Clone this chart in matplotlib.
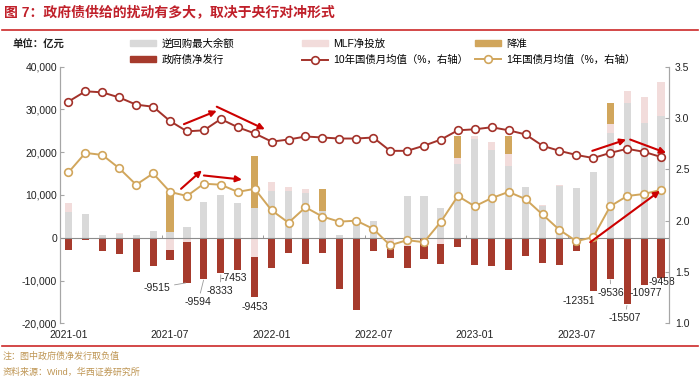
import matplotlib
matplotlib.use('Agg')
import matplotlib.pyplot as plt
import numpy as np
from matplotlib.lines import Line2D
from matplotlib.patches import Patch
from matplotlib.ticker import FuncFormatter

plt.rcParams['font.family'] = ['Liberation Sans', 'Noto Sans CJK SC']

# 月份 2021-01 ~ 2023-12
months = [f'{y}-{m:02d}' for y in (2021, 2022, 2023) for m in range(1, 13)]

# 逆回购最大余额（亿元）
reverse_repo = [6120, 5580, 700, 850, 540, 1550, 1320, 2480, 8450, 10000, 8140, 6900,
                11000, 11000, 10460, 6150, 540, 3500, 4030, 0, 9690, 9690, 7000, 17200,
                23000, 20460, 16820, 11780, 7400, 12000, 11630, 15270, 24570, 31540, 26900, 28440]
# MLF净投放（亿元）
mlf = [2000, 0, 0, 300, 0, 0, -2950, -1000, 0, 0, 0, -4500,
       1940, 930, 930, 0, 0, 0, 0, -2000, -2000, 0, -1500, 1550,
       780, 2000, 2870, 170, 300, 250, 0, 0, 1940, 2870, 5970, 7980]
# 降准（亿元）
rrr = [0, 0, 0, 0, 0, 0, 8900, 0, 0, 0, 0, 12170,
       0, 0, 0, 5350, 0, 0, 0, 0, 0, 0, 0, 5040,
       0, 0, 4200, 0, 0, 0, 0, 0, 4890, 0, 0, 0]
# 政府债净发行（取负值，亿元）
gov_bond = [-2950, -465, -3100, -3720, -7980, -6590, -2300, -9515, -9594, -8333, -7453, -9453,
            -6980, -3490, -6050, -3490, -12010, -16900, -3100, -2650, -5000, -5040, -4700, -2200,
            -6430, -6660, -7440, -4260, -5810, -6430, -3020, -12351, -9536, -15507, -10977, -9458]
# 10年、1年国债月均值（%）
y10 = [3.16, 3.26, 3.25, 3.20, 3.13, 3.11, 2.97, 2.87, 2.88, 2.99, 2.91, 2.85,
       2.77, 2.79, 2.82, 2.81, 2.80, 2.80, 2.81, 2.68, 2.68, 2.73, 2.79, 2.88,
       2.89, 2.91, 2.88, 2.84, 2.73, 2.68, 2.64, 2.61, 2.66, 2.70, 2.67, 2.62]
y1 = [2.47, 2.66, 2.64, 2.51, 2.35, 2.46, 2.28, 2.24, 2.36, 2.35, 2.28, 2.31,
      2.10, 1.98, 2.13, 2.04, 1.99, 2.00, 1.92, 1.76, 1.81, 1.79, 1.99, 2.24,
      2.14, 2.22, 2.28, 2.21, 2.06, 1.91, 1.80, 1.84, 2.14, 2.24, 2.26, 2.30]

# 标注的月份（政府债净发行数值）
label_idx = [7, 8, 9, 10, 11, 31, 32, 33, 34, 35]
# 红色箭头 (起点, 终点)，x为月份序号，y为右轴
arrows = [((6.82, 2.94), (8.76, 3.07)), ((8.76, 3.11), (11.6, 2.89)),
          ((6.65, 2.31), (7.88, 2.49)), ((8.0, 2.44), (10.25, 2.40)),
          ((30.94, 2.68), (32.94, 2.79)), ((33.18, 2.79), (35.3, 2.66)),
          ((30.82, 1.79), (34.94, 2.29))]

C_GRAY = '#D9D9D9'
C_PINK = '#F2DCDB'
C_GOLD = '#D1A65C'
C_RED = '#A63A2C'
C_LINE10 = '#A3322A'
C_ARROW = '#CC0000'

fig = plt.figure(figsize=(7, 3.83), dpi=100)
ax = fig.add_axes([0.0857, 0.1559, 0.8707, 0.670])
ax2 = ax.twinx()

x = np.arange(len(months))
w = 0.42
gray = np.array(reverse_repo)
pink = np.array(mlf)
gold = np.array(rrr)
red = np.array(gov_bond)
pink_pos = np.clip(pink, 0, None)
pink_neg = np.clip(pink, None, 0)

ax.bar(x, gray, w, color=C_GRAY, zorder=2)
ax.bar(x, pink_pos, w, bottom=gray, color=C_PINK, zorder=2)
ax.bar(x, pink_neg, w, color=C_PINK, zorder=2)
ax.bar(x, gold, w, bottom=gray + pink_pos, color=C_GOLD, zorder=2)
ax.bar(x, red, w, bottom=pink_neg, color=C_RED, zorder=2)
ax.axhline(0, color='#8C8C8C', lw=0.8, zorder=3)

ax2.plot(x, y10, color=C_LINE10, lw=1.4, marker='o', ms=5.5, mfc='white', mew=1.2)
ax2.plot(x, y1, color=C_GOLD, lw=1.4, marker='o', ms=5.5, mfc='white', mew=1.2)

# 数值标注
leaders = {7, 8, 9, 32, 33}
offsets = {7: (-21.6, -3.7), 8: (-4.2, -16.9), 9: (-0.4, -12.7), 10: (-2.7, -6.0),
           11: (0, -6.8), 31: (-10.3, -7.6), 32: (0.5, -10.4), 33: (-1.6, -10.3),
           34: (1.3, -6.3), 35: (0.7, -2.9)}
for i in label_idx:
    props = None
    if i in leaders:
        props = dict(arrowstyle='-', color='#9A9A9A', lw=0.6, shrinkA=1, shrinkB=1)
    ax.annotate(f'{red[i]}', xy=(i, pink_neg[i] + red[i]), xytext=offsets[i],
                textcoords='offset points', ha='center', va='center',
                fontsize=7.5, color='#222222', arrowprops=props, zorder=5)

for (s, e) in arrows:
    ax2.annotate('', xy=e, xytext=s,
                 arrowprops=dict(arrowstyle='-|>', color=C_ARROW, lw=1.5,
                                 mutation_scale=9, shrinkA=0, shrinkB=0))

# 坐标轴
ax.set_xlim(-0.5, len(months) - 0.5)
ax.set_ylim(-20000, 40000)
ax.set_yticks(range(-20000, 40001, 10000))
ax.yaxis.set_major_formatter(FuncFormatter(lambda v, p: f'{v:,.0f}'))
ax2.set_ylim(1.0, 3.5)
ax2.set_yticks(np.arange(1.0, 3.51, 0.5))
ax2.yaxis.set_major_formatter(FuncFormatter(lambda v, p: f'{v:.1f}'))
ax.set_xticks(x[::6])
ax.set_xticklabels(months[::6])

for a in (ax, ax2):
    a.spines['top'].set_visible(False)
    a.spines['bottom'].set_visible(False)
    a.spines['left'].set_color('#A6A6A6')
    a.spines['right'].set_color('#A6A6A6')
    a.spines['left'].set_linewidth(0.8)
    a.spines['right'].set_linewidth(0.8)
ax.tick_params(axis='y', direction='in', length=3, color='#A6A6A6', labelsize=7.5,
               labelcolor='#222222', pad=2)
ax2.tick_params(axis='y', direction='in', length=3, color='#A6A6A6', labelsize=7.5,
                labelcolor='#222222', pad=4)
ax.tick_params(axis='x', length=0, labelsize=7.5, labelcolor='#222222', pad=5)

sec = ax.secondary_xaxis(1 / 3)
sec.set_xticks([5.5, 11.5, 17.5, 23.5, 29.5])
sec.set_xticklabels([])
sec.xaxis.set_ticks_position('bottom')
sec.tick_params(direction='in', length=2.5, color='#8C8C8C', width=0.6)
for s in sec.spines.values():
    s.set_visible(False)

# 图例
h_gray = Patch(color=C_GRAY)
h_pink = Patch(color=C_PINK)
h_gold = Patch(color=C_GOLD)
h_red = Patch(color=C_RED)
h_10 = Line2D([], [], color=C_LINE10, lw=1.4, marker='o', ms=5.5, mfc='white', mew=1.2)
h_1 = Line2D([], [], color=C_GOLD, lw=1.4, marker='o', ms=5.5, mfc='white', mew=1.2)
kw = dict(frameon=False, fontsize=7.5, handlelength=2.5, handleheight=0.55,
          handletextpad=0.5, labelspacing=0.6, borderpad=0, borderaxespad=0,
          loc='center left')
fig.legend([h_gray, h_red], ['逆回购最大余额', '政府债净发行'], bbox_to_anchor=(0.186, 0.865), **kw)
fig.legend([h_pink, h_10], ['MLF净投放', '10年国债月均值（%，右轴）'], bbox_to_anchor=(0.431, 0.865), **kw)
fig.legend([h_gold, h_1], ['降准', '1年国债月均值（%，右轴）'], bbox_to_anchor=(0.679, 0.865), **kw)

# 标题与注释
fig.text(0.006, 0.969, '图 7：政府债供给的扰动有多大，取决于央行对冲形式', fontsize=10,
         fontweight='bold', color='#C0202A', va='center', ha='left')
fig.add_artist(Line2D([0.003, 0.997], [0.9217, 0.9217], transform=fig.transFigure,
                      color='#CC2929', lw=1.2))
fig.text(0.018, 0.8825, '单位：亿元', fontsize=7.5, fontweight='bold', color='#222222',
         va='center', ha='left')
fig.add_artist(Line2D([0.003, 0.997], [0.0966, 0.0966], transform=fig.transFigure,
                      color='#CC2929', lw=1.2))
fig.text(0.004, 0.071, '注：图中政府债净发行取负值', fontsize=6.5, color='#BE9553', va='center')
fig.text(0.004, 0.027, '资料来源：Wind，华西证券研究所', fontsize=6.5, color='#BE9553', va='center')

fig.savefig('out.png', dpi=100)
